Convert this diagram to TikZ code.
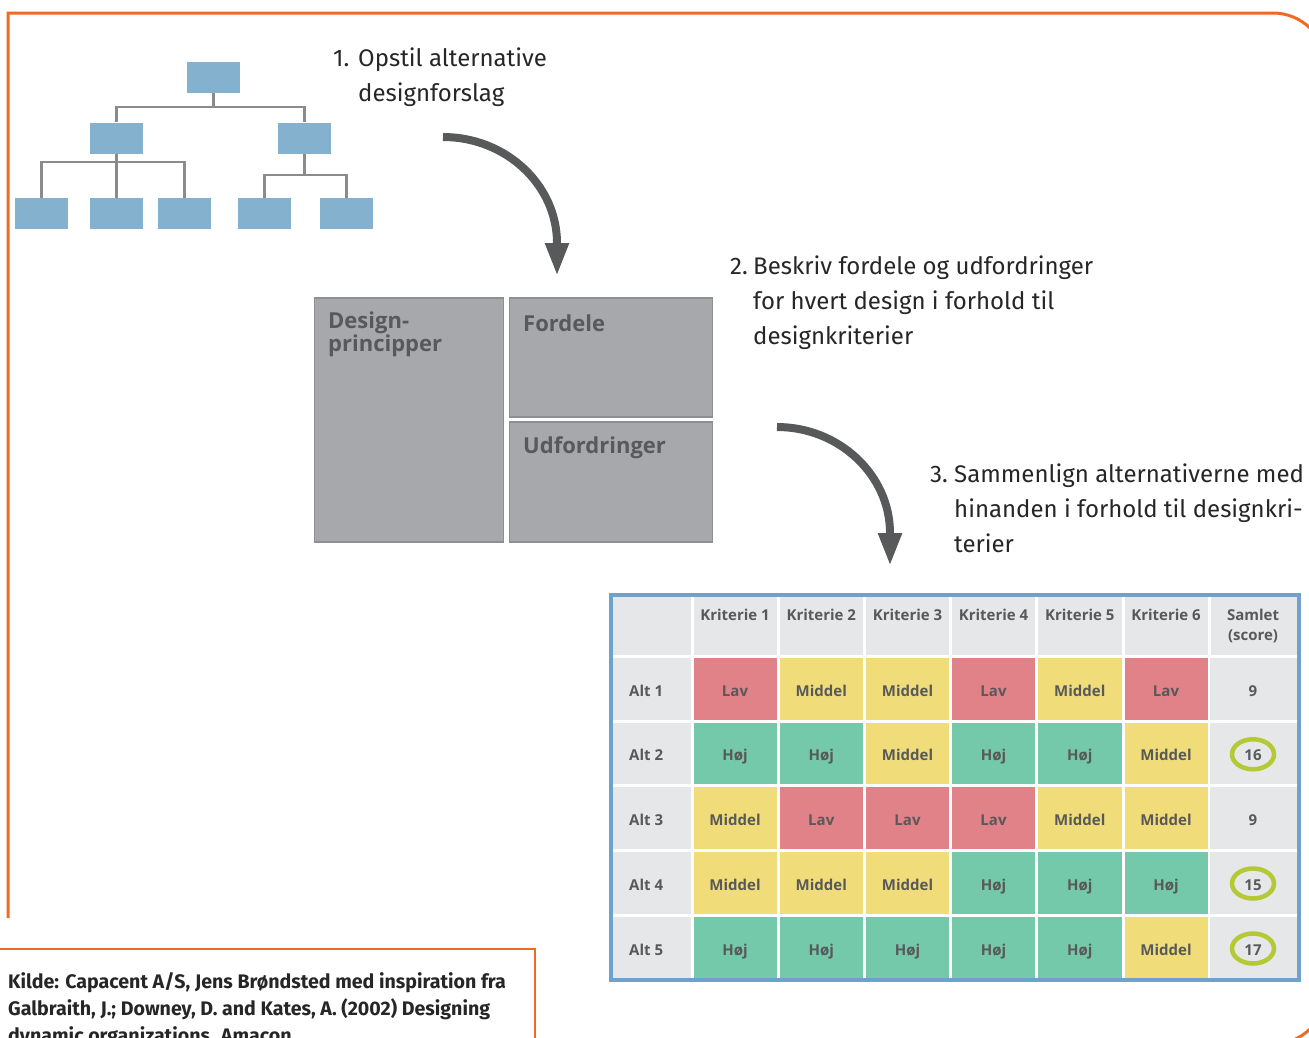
\documentclass[tikz,border=0pt]{standalone}
\usepackage{fontspec}
\setmainfont{Fira Sans}
\newfontfamily\stepfont{Fira Sans}
\newfontfamily\kildefont{Fira Sans}
\newfontfamily\tabfont{Open Sans}
\usetikzlibrary{arrows.meta}
\definecolor{frameor}{HTML}{F26A21}
\definecolor{orgblue}{HTML}{84B1CE}
\definecolor{orgln}{HTML}{8A8B8D}
\definecolor{arrowgr}{HTML}{58595B}
\definecolor{boxgr}{HTML}{A7A8AB}
\definecolor{boxln}{HTML}{8E8F91}
\definecolor{txtgr}{HTML}{58595B}
\definecolor{txtdk}{HTML}{262626}
\definecolor{tabblue}{HTML}{6FA1CE}
\definecolor{cgr}{HTML}{E6E7E8}
\definecolor{crd}{HTML}{E08287}
\definecolor{cyl}{HTML}{F0DC78}
\definecolor{cgn}{HTML}{74C9AA}
\definecolor{ringc}{HTML}{B5C935}
\def\XS{{611,692,778,864.5,950.5,1036.5,1123,1209,1299}}
\def\YS{{595,656.5,721,785.5,850,915,980}}
\begin{document}
\begin{tikzpicture}[x=1pt,y=-1pt,
  frame/.style={draw=frameor, line width=3pt},
  orgbox/.style={fill=orgblue, minimum width=53pt, minimum height=31pt, inner sep=0pt},
  orgconn/.style={draw=orgln, line width=2.2pt},
  bigarrow/.style={draw=arrowgr, line width=8pt, -{Triangle[length=33pt,width=22pt]}},
  gbox/.style={fill=boxgr, draw=boxln, line width=1.5pt, inner sep=0pt},
  gtext/.style={font=\tabfont\bfseries\fontsize{22}{23}\selectfont, text=txtgr, inner sep=0pt, anchor=base west},
  steptext/.style={font=\stepfont\fontsize{24}{35}\selectfont, text=txtdk, inner sep=0pt, anchor=base west},
  kilde/.style={font=\kildefont\bfseries\fontsize{19.6}{27}\selectfont, text=txtdk, inner sep=0pt, anchor=base west},
  cellbg/.style={fill=cgr, inner sep=0pt},
  tcell/.style={inner sep=0pt, text height=15pt, text depth=0pt, font=\tabfont\bfseries\fontsize{15}{19}\selectfont, text=txtgr},
  thead/.style={inner sep=0pt, anchor=base, font=\tabfont\bfseries\fontsize{15}{20}\selectfont, text=txtgr},
  tlab/.style={inner sep=0pt, anchor=base west, font=\tabfont\bfseries\fontsize{15}{19}\selectfont, text=txtgr},
  ringst/.style={draw=ringc, line width=4.5pt},
  tabframe/.style={draw=tabblue, line width=4pt}
]
\useasboundingbox (0,0) rectangle (1309,1037);

% outer orange frame
\begin{scope}
\clip (0,0) rectangle (1309,1037);
\draw[frame] (8,918) -- (8,13) -- (1200,13) [rounded corners=53pt] -- (1326,13) -- (1326,1044) -- (700,1044);
\draw[frame, line width=2.5pt] (-5,949) -- (535,949) -- (535,1050);
\end{scope}

% org chart
\node[orgbox] (o0) at (213.5,77.5) {};
\node[orgbox] (o1) at (116.5,138) {};
\node[orgbox] (o2) at (304.5,138) {};
\node[orgbox] (o3) at (41.5,213.5) {};
\node[orgbox] (o4) at (116.5,213.5) {};
\node[orgbox] (o5) at (184.5,213.5) {};
\node[orgbox] (o6) at (264.5,213.5) {};
\node[orgbox] (o7) at (346.5,213.5) {};
\coordinate (j0) at (213.5,107);
\coordinate (j1) at (116.5,162);
\coordinate (j2) at (304.5,175);
\draw[orgconn] (o0.south) -- (j0) -| (o1.north);
\draw[orgconn] (j0) -| (o2.north);
\draw[orgconn] (o1.south) -- (j1) -| (o3.north);
\draw[orgconn] (j1) -| (o5.north);
\draw[orgconn] (j1) -- (o4.north);
\draw[orgconn] (o2.south) -- (j2) -| (o6.north);
\draw[orgconn] (j2) -| (o7.north);

% step texts
\node[steptext] (s1) at (333,66) {\begin{tabular}[t]{@{}p{25pt}@{}l@{}}1.&Opstil alternative\\&designforslag\end{tabular}};
\node[steptext] (s2) at (730,274) {\begin{tabular}[t]{@{}p{23pt}@{}l@{}}2.&Beskriv fordele og udfordringer\\&for hvert design i forhold til\\&designkriterier\end{tabular}};
\node[steptext] (s3) at (930,482) {\begin{tabular}[t]{@{}p{24pt}@{}l@{}}3.&Sammenlign alternativerne med\\&hinanden i forhold til designkri-\\&terier\end{tabular}};

% arrows
\coordinate (a1s) at (443,137);
\coordinate (a1m) at (557,243);
\coordinate (a1e) at (557,276);
\draw[bigarrow] (a1s) .. controls (506,137) and (557,185) .. (a1m) -- (a1e);
\coordinate (a2s) at (777,427);
\coordinate (a2m) at (890,533);
\coordinate (a2e) at (890,566);
\draw[bigarrow] (a2s) .. controls (839,427) and (890,475) .. (a2m) -- (a2e);

% grey boxes
\node[gbox, minimum width=189pt, minimum height=244pt] (dp) at (409,420) {};
\node[gbox, minimum width=203pt, minimum height=119pt] (fd) at (611,357.5) {};
\node[gbox, minimum width=203pt, minimum height=120pt] (ud) at (611,482) {};
\node[gtext] (dpt1) at (328,328) {Design-};
\node[gtext] (dpt2) at (328,351) {principper};
\node[gtext] (fdt) at (523,331) {Fordele};
\node[gtext] (udt) at (523,453) {Udfordringer};

% table header row
\foreach \c in {0,...,7} {
  \pgfmathsetmacro\xa{\XS[\c]}
  \pgfmathsetmacro\xb{\XS[\c+1]}
  \node[cellbg, minimum width=\xb-\xa-3, minimum height=58.5] (h\c) at ({(\xa+\xb)/2},625.75) {};
}
\foreach \c in {1,...,6} {
  \pgfmathsetmacro\xa{\XS[\c]}
  \pgfmathsetmacro\xb{\XS[\c+1]}
  \node[thead] (k\c) at ({(\xa+\xb)/2},620) {Kriterie \c};
}
\node[thead] (sam1) at (1253,620) {Samlet};
\node[thead] (sam2) at (1253,640) {(score)};

% table body
\foreach \r/\alt/\score/\cells in {
  1/Alt 1/9/{crd/Lav,cyl/Middel,cyl/Middel,crd/Lav,cyl/Middel,crd/Lav},
  2/Alt 2/16/{cgn/Høj,cgn/Høj,cyl/Middel,cgn/Høj,cgn/Høj,cyl/Middel},
  3/Alt 3/9/{cyl/Middel,crd/Lav,crd/Lav,crd/Lav,cyl/Middel,cyl/Middel},
  4/Alt 4/15/{cyl/Middel,cyl/Middel,cyl/Middel,cgn/Høj,cgn/Høj,cgn/Høj},
  5/Alt 5/17/{cgn/Høj,cgn/Høj,cgn/Høj,cgn/Høj,cgn/Høj,cyl/Middel}} {
  \pgfmathsetmacro\ya{\YS[\r]}
  \pgfmathsetmacro\yb{\YS[\r+1]}
  \pgfmathsetmacro\ym{(\ya+\yb)/2}
  \pgfmathsetmacro\hh{\yb-\ya-3}
  \node[cellbg, minimum width=78, minimum height=\hh] (a\r) at (651.5,\ym) {};
  \node[tlab] (al\r) at (629,{\ym+7.5}) {\alt};
  \foreach[count=\c] \col/\t in \cells {
    \pgfmathsetmacro\xa{\XS[\c]}
    \pgfmathsetmacro\xb{\XS[\c+1]}
    \node[tcell, fill=\col, minimum width=\xb-\xa-3, minimum height=\hh] (c\r-\c) at ({(\xa+\xb)/2},\ym) {\t};
  }
  \node[tcell, fill=cgr, minimum width=87, minimum height=\hh] (sc\r) at (1253,\ym) {\score};
}
\draw[ringst] ([yshift=-1pt]sc2.center) ellipse [x radius=21, y radius=15];
\draw[ringst] ([yshift=-1pt]sc4.center) ellipse [x radius=21, y radius=15];
\draw[ringst] ([yshift=-1pt]sc5.center) ellipse [x radius=21, y radius=15];
\draw[tabframe] (611,595) rectangle (1299,980);

% source
\node[kilde] (src) at (8,988) {\begin{tabular}[t]{@{}l@{}}Kilde: Capacent A/S, Jens Brøndsted med inspiration fra\\Galbraith, J.; Downey, D. and Kates, A. (2002) Designing\\dynamic organizations. Amacon.\end{tabular}};
\end{tikzpicture}
\end{document}
